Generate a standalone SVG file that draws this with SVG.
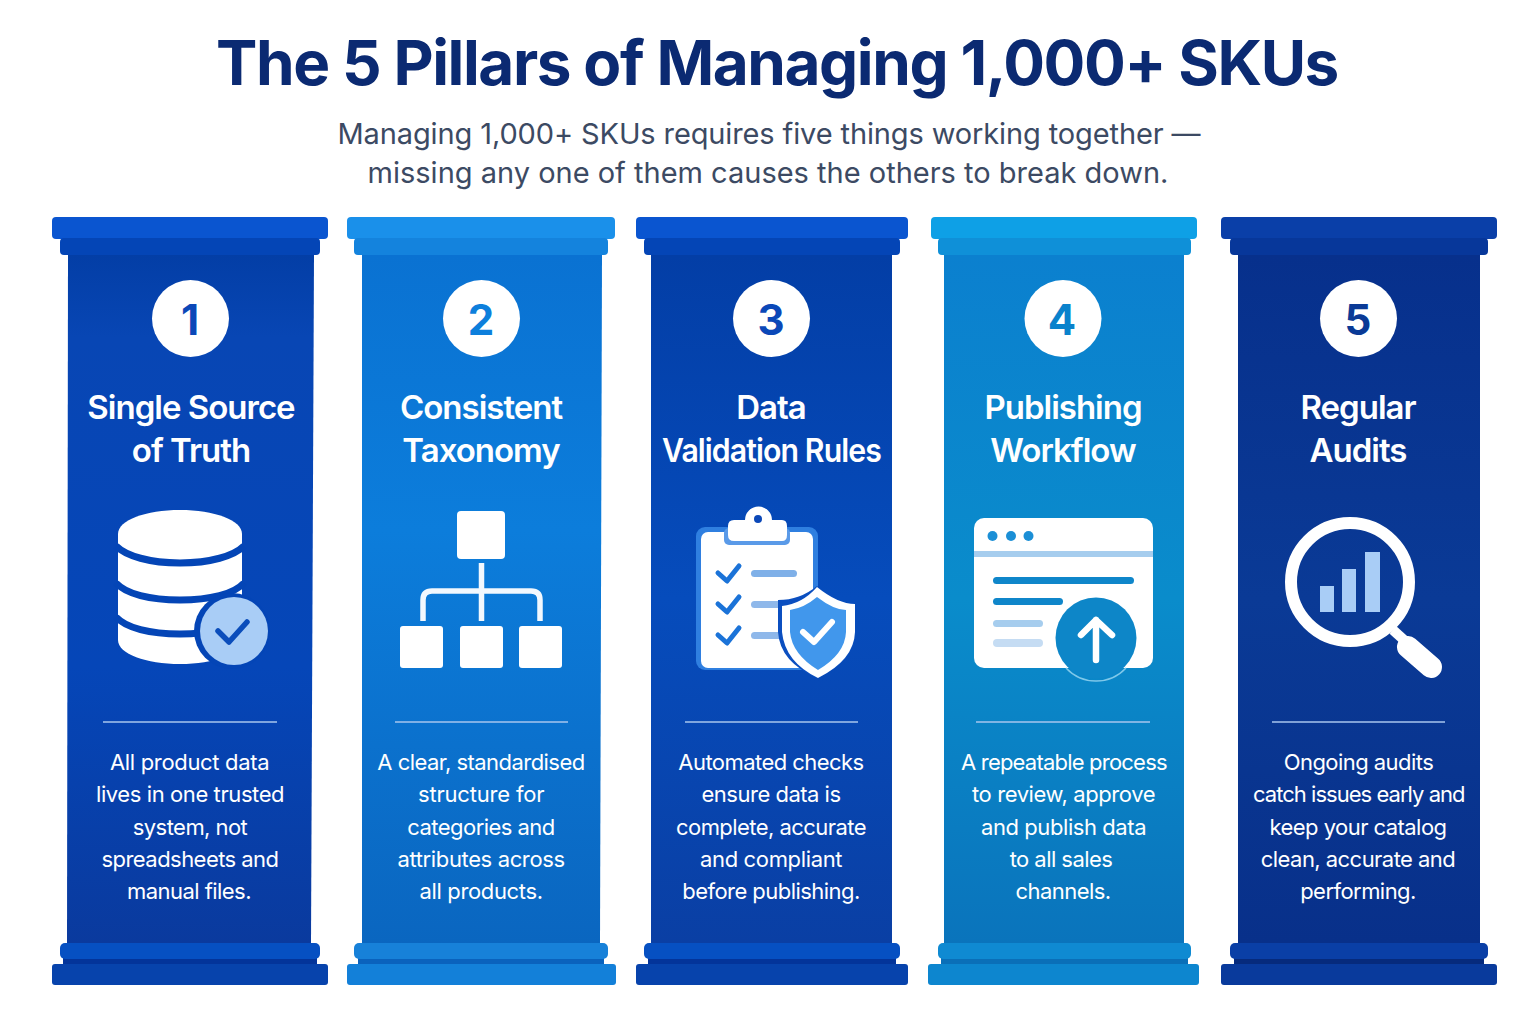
<svg xmlns="http://www.w3.org/2000/svg" width="1536" height="1024" viewBox="0 0 1536 1024">
<style>
text{font-family:Inter,"Liberation Sans",sans-serif;text-anchor:middle}
.h1{font-size:62px;font-weight:700;fill:#0b2a72;letter-spacing:-1.42px}
.sub{font-size:29px;fill:#3c4a63}
.num{font-size:42px;font-weight:700}
.t{font-size:33px;font-weight:600;fill:#fff;letter-spacing:-1px}
.b{font-size:22px;fill:#fff;letter-spacing:-.55px}
.div{stroke:#a9c6ee;stroke-width:1.5}
.w{fill:#fff}
</style>
<defs>
<linearGradient id="s1" x1="0" y1="0" x2="0" y2="1"><stop offset="0" stop-color="#033ea6"/><stop offset=".12" stop-color="#0846b4"/><stop offset=".6" stop-color="#0546b8"/><stop offset="1" stop-color="#0a3a9e"/></linearGradient>
<linearGradient id="s2" x1="0" y1="0" x2="0" y2="1"><stop offset="0" stop-color="#0a72d2"/><stop offset=".4" stop-color="#0c7ddb"/><stop offset="1" stop-color="#0a66c0"/></linearGradient>
<linearGradient id="s3" x1="0" y1="0" x2="0" y2="1"><stop offset="0" stop-color="#033ea6"/><stop offset=".5" stop-color="#064cbc"/><stop offset="1" stop-color="#0a3fa4"/></linearGradient>
<linearGradient id="s4" x1="0" y1="0" x2="0" y2="1"><stop offset="0" stop-color="#0b80cf"/><stop offset=".5" stop-color="#0a8ccb"/><stop offset="1" stop-color="#0a74bc"/></linearGradient>
<linearGradient id="s5" x1="0" y1="0" x2="0" y2="1"><stop offset="0" stop-color="#07308c"/><stop offset=".5" stop-color="#0a3a96"/><stop offset="1" stop-color="#08308a"/></linearGradient>
</defs>
<rect width="1536" height="1024" fill="#fff"/>
<g id="header">
<text class="h1" x="777" y="85">The 5 Pillars of Managing 1,000+ SKUs</text>
<text class="sub" x="769" y="143.500" style="letter-spacing:-.12px">Managing 1,000+ SKUs requires five things working together —</text>
<text class="sub" x="768" y="182.500">missing any one of them causes the others to break down.</text>
</g>
<g id="pillar-1">
<rect x="52" y="217" width="276" height="22" rx="4" fill="#0a55d0"/>
<rect x="60" y="238" width="260" height="17" rx="4" fill="#0445b6"/>
<path d="M68 255H314L311 943H67Z" fill="url(#s1)"/>
<rect x="63" y="955" width="254" height="10" fill="#03349a"/>
<rect x="60" y="943" width="260" height="16" rx="5" fill="#0650c2"/>
<rect x="52" y="964" width="276" height="21" rx="3" fill="#0743ac"/>
<circle cx="190.500" cy="318.500" r="38.500" class="w"/>
<text class="num" x="190" y="335" fill="#0b48b8">1</text>
<text class="t" x="191" y="418.500">Single Source</text>
<text class="t" x="191" y="461.500">of Truth</text>
<g id="icon-database">
<path class="w" d="M118 534C118 520 146 510 180 510S242 520 242 534V640C242 654 214 664 180 664S118 654 118 640Z"/>
<path d="M116 546C126 556 150 563 180 563S234 556 244 546M116 583C126 594 150 600 180 600S234 594 244 583M116 617C126 628 150 634 180 634S234 628 244 617" fill="none" stroke="#0445b6" stroke-width="7"/>
<circle cx="232" cy="631" r="38" fill="#0445b6"/>
<circle cx="234" cy="631" r="34" fill="#a9cdf6"/>
<path d="M218 631L229 642L247 622" fill="none" stroke="#0b4dbb" stroke-width="5.500" stroke-linecap="round" stroke-linejoin="round"/>
</g>
<line class="div" x1="103" y1="722" x2="277" y2="722"/>
<text class="b" x="189.500" y="769.500" textLength="159">All product data</text>
<text class="b" x="190" y="801.500" textLength="188">lives in one trusted</text>
<text class="b" x="190" y="834.500">system, not</text>
<text class="b" x="190" y="866.500">spreadsheets and</text>
<text class="b" x="189" y="898.500">manual files.</text>
</g>
<g id="pillar-2">
<rect x="347" y="217" width="268" height="22" rx="4" fill="#1a90ea"/>
<rect x="354" y="238" width="254" height="17" rx="4" fill="#1483dd"/>
<path d="M362 255H602L600 943H362Z" fill="url(#s2)"/>
<rect x="358" y="955" width="246" height="10" fill="#0a62bd"/>
<rect x="354" y="943" width="254" height="16" rx="5" fill="#1781d9"/>
<rect x="347" y="964" width="269" height="21" rx="3" fill="#1380d9"/>
<circle cx="481.500" cy="318.500" r="38.500" class="w"/>
<text class="num" x="481" y="335" fill="#0d7fdc">2</text>
<text class="t" x="481" y="418.500">Consistent</text>
<text class="t" x="481" y="461.500">Taxonomy</text>
<g id="icon-taxonomy">
<rect x="457" y="511" width="48" height="48" rx="4" class="w"/>
<rect x="400" y="626" width="43" height="42" rx="3" class="w"/>
<rect x="460" y="626" width="43" height="42" rx="3" class="w"/>
<rect x="519" y="626" width="43" height="42" rx="3" class="w"/>
<path d="M481.500 563V621M423 621V600Q423 591 432 591H531Q540 591 540 600V621" fill="none" stroke="#f2f8fe" stroke-width="5.500"/>
</g>
<line class="div" x1="395" y1="722" x2="568" y2="722"/>
<text class="b" x="481" y="769.500">A clear, standardised</text>
<text class="b" x="481" y="801.500" textLength="126">structure for</text>
<text class="b" x="481" y="834.500">categories and</text>
<text class="b" x="481" y="866.500" textLength="167">attributes across</text>
<text class="b" x="481" y="898.500" textLength="123">all products.</text>
</g>
<g id="pillar-3">
<rect x="636" y="217" width="272" height="22" rx="4" fill="#0a55d0"/>
<rect x="644" y="238" width="256" height="17" rx="4" fill="#0445b6"/>
<rect x="651" y="255" width="241" height="688" fill="url(#s3)"/>
<rect x="648" y="955" width="248" height="10" fill="#03349a"/>
<rect x="644" y="943" width="256" height="16" rx="5" fill="#0650c2"/>
<rect x="636" y="964" width="272" height="21" rx="3" fill="#0743ac"/>
<circle cx="771.500" cy="318.500" r="38.500" class="w"/>
<text class="num" x="771" y="335" fill="#0b48b8">3</text>
<text class="t" x="771" y="418.500">Data</text>
<text class="t" x="771.500" y="461.500" textLength="219" lengthAdjust="spacingAndGlyphs">Validation Rules</text>
<g id="icon-checklist">
<rect x="696" y="527" width="122" height="143" rx="9" fill="#2f7fe0"/>
<rect x="701" y="532" width="112" height="136" rx="7" class="w"/>
<rect x="724" y="528" width="66" height="17" rx="5" fill="#5a9ae8"/>
<path class="w" d="M728 526Q728 520 734 520H745A13.500 13.500 0 0 1 772 520H782Q787 520 787 526V535Q787 541 782 541H734Q728 541 728 535Z"/>
<circle cx="758" cy="519" r="4" fill="#0b48b8"/>
<path d="M718 573L727 581L739 566M718 604L727 612L739 597M718 635L727 643L739 628" fill="none" stroke="#1b73d8" stroke-width="5" stroke-linecap="round" stroke-linejoin="round"/>
<rect x="751" y="570" width="46" height="7" rx="3.500" fill="#7fb0e8"/>
<rect x="751" y="601" width="46" height="7" rx="3.500" fill="#8fb8ea"/>
<rect x="751" y="632" width="46" height="7" rx="3.500" fill="#8fb8ea"/>
<path d="M817 586Q838 604 855 604V632Q855 662 817 678Q780 662 778 632V600Q800 600 817 586Z" fill="#0b4fc0"/>
<path d="M817 587Q838 604 855 604V632Q854 660 818 678Q785 662 782 632V606Q802 604 817 587Z" fill="#fff"/>
<path d="M817 597Q834 610 846 610V632Q845 654 818 670Q792 654 790 632V610Q804 608 817 597Z" fill="#4197ec"/>
<path d="M803 632L814 642L832 622" fill="none" stroke="#fff" stroke-width="6" stroke-linecap="round" stroke-linejoin="round"/>
</g>
<line class="div" x1="685" y1="722" x2="858" y2="722"/>
<text class="b" x="771" y="769.500">Automated checks</text>
<text class="b" x="771" y="801.500" textLength="139">ensure data is</text>
<text class="b" x="771" y="834.500">complete, accurate</text>
<text class="b" x="771" y="866.500" textLength="142">and compliant</text>
<text class="b" x="771" y="898.500">before publishing.</text>
</g>
<g id="pillar-4">
<rect x="931" y="217" width="266" height="22" rx="4" fill="#0ea0e6"/>
<rect x="938" y="238" width="253" height="17" rx="4" fill="#0f90d8"/>
<rect x="944" y="255" width="240" height="688" fill="url(#s4)"/>
<rect x="941" y="955" width="247" height="10" fill="#0a6fb8"/>
<rect x="938" y="943" width="253" height="16" rx="5" fill="#0f8ad2"/>
<rect x="928" y="964" width="271" height="21" rx="3" fill="#0d86cf"/>
<circle cx="1063" cy="318.500" r="38.500" class="w"/>
<text class="num" x="1062" y="335" fill="#0a82cc">4</text>
<text class="t" x="1063" y="418.500">Publishing</text>
<text class="t" x="1063" y="461.500">Workflow</text>
<g id="icon-publish">
<rect x="974" y="518" width="179" height="150" rx="10" class="w"/>
<rect x="974" y="551" width="179" height="6" fill="#a6cdee"/>
<circle cx="992.500" cy="536" r="5" fill="#1b8fd6"/>
<circle cx="1011" cy="536" r="5" fill="#1b8fd6"/>
<circle cx="1028.500" cy="536" r="5" fill="#1b8fd6"/>
<rect x="993" y="577" width="141" height="7" rx="3.500" fill="#0f86ca"/>
<rect x="993" y="598" width="70" height="7" rx="3.500" fill="#0f86ca"/>
<rect x="993" y="620" width="50" height="7" rx="3.500" fill="#a6cdee"/>
<rect x="993" y="639" width="50" height="8" rx="4" fill="#c5dcf3"/>
<circle cx="1096" cy="638" r="40.500" fill="#0d86c8"/>
<path d="M1066 668A41 41 0 0 0 1126 668" fill="none" stroke="#7fc8ea" stroke-width="1.500"/>
<path d="M1096 660V620M1081 635L1096 620L1112 635" fill="none" stroke="#fff" stroke-width="6.500" stroke-linecap="round" stroke-linejoin="round"/>
</g>
<line class="div" x1="976" y1="722" x2="1150" y2="722"/>
<text class="b" x="1064" y="769.500" textLength="206">A repeatable process</text>
<text class="b" x="1063.500" y="801.500" textLength="183">to review, approve</text>
<text class="b" x="1063.500" y="834.500" textLength="165">and publish data</text>
<text class="b" x="1061" y="866.500">to all sales</text>
<text class="b" x="1063" y="898.500">channels.</text>
</g>
<g id="pillar-5">
<rect x="1221" y="217" width="276" height="22" rx="4" fill="#0a3fa8"/>
<rect x="1230" y="238" width="258" height="17" rx="4" fill="#07379a"/>
<rect x="1238" y="255" width="242" height="688" fill="url(#s5)"/>
<rect x="1234" y="955" width="250" height="10" fill="#062a7c"/>
<rect x="1230" y="943" width="258" height="16" rx="5" fill="#0a3fa6"/>
<rect x="1221" y="964" width="276" height="21" rx="3" fill="#093a9c"/>
<circle cx="1358.500" cy="318.500" r="38.500" class="w"/>
<text class="num" x="1358" y="335" fill="#0a3a96">5</text>
<text class="t" x="1358" y="418.500">Regular</text>
<text class="t" x="1358" y="461.500">Audits</text>
<g id="icon-audit">
<circle cx="1350" cy="582" r="59" fill="none" stroke="#fff" stroke-width="12"/>
<path d="M1393 630L1404 640" stroke="#fff" stroke-width="10" fill="none"/>
<path d="M1408 647L1431 667" stroke="#fff" stroke-width="22" stroke-linecap="round" fill="none"/>
<rect x="1320" y="586" width="14" height="26" fill="#a9cdf6"/>
<rect x="1342" y="569" width="14" height="43" fill="#a9cdf6"/>
<rect x="1365" y="552" width="15" height="60" fill="#a9cdf6"/>
</g>
<line class="div" x1="1272" y1="722" x2="1445" y2="722"/>
<text class="b" x="1358.500" y="769.500">Ongoing audits</text>
<text class="b" x="1359" y="801.500" textLength="212">catch issues early and</text>
<text class="b" x="1358" y="834.500">keep your catalog</text>
<text class="b" x="1358" y="866.500">clean, accurate and</text>
<text class="b" x="1358" y="898.500">performing.</text>
</g>
<g id="connectors"/>
</svg>
